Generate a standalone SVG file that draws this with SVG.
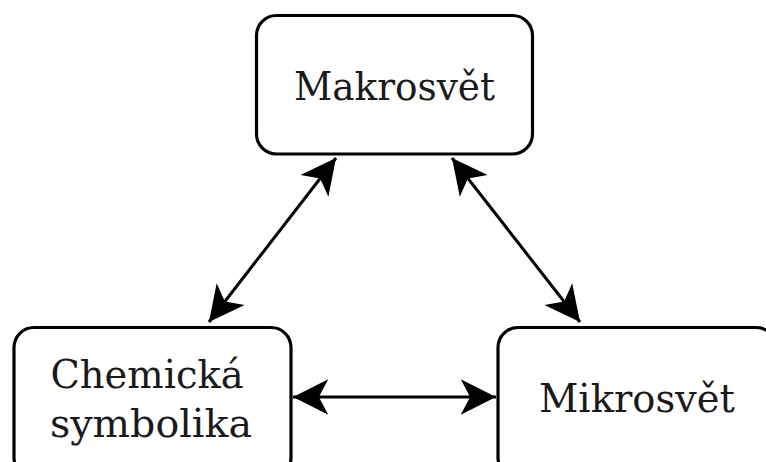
<svg xmlns="http://www.w3.org/2000/svg" width="766" height="462" viewBox="0 0 766 462">
  <style>
    .box { fill: #ffffff; stroke: #000000; stroke-width: 3.2; }
    .label { font-family: "DejaVu Serif", "Liberation Serif", serif; font-size: 40px; fill: #1a1a1a; text-anchor: middle; }
    .link { stroke: #000000; stroke-width: 3; fill: none; marker-start: url(#head); marker-end: url(#head); }
  </style>
  <defs>
    <marker id="head" markerUnits="userSpaceOnUse" markerWidth="40" markerHeight="40" viewBox="-32 -16 34 32" refX="0" refY="0" orient="auto-start-reverse" overflow="visible">
      <path d="M0,0 L-30,-15 L-22,0 L-30,15 Z" fill="#000000"/>
    </marker>
  </defs>
  <rect width="766" height="462" fill="#ffffff"/>

  <g id="connectors">
    <line class="link" x1="336" y1="158" x2="209" y2="322"/>
    <line class="link" x1="452" y1="158" x2="580" y2="322"/>
    <line class="link" x1="293" y1="397" x2="496" y2="397"/>
  </g>

  <g id="makrosvet">
    <rect class="box" x="256.5" y="15.5" width="276" height="138.5" rx="20"/>
    <text class="label" x="394.5" y="100" textLength="201" lengthAdjust="spacingAndGlyphs">Makrosvět</text>
  </g>

  <g id="chemicka-symbolika">
    <rect class="box" x="14" y="327.5" width="277" height="150" rx="20"/>
    <text class="label" x="147" y="388" textLength="193" lengthAdjust="spacingAndGlyphs">Chemická</text>
    <text class="label" x="151" y="437" textLength="202" lengthAdjust="spacingAndGlyphs">symbolika</text>
  </g>

  <g id="mikrosvet">
    <rect class="box" x="498" y="327.5" width="278" height="150" rx="20"/>
    <text class="label" x="637" y="412" textLength="196" lengthAdjust="spacingAndGlyphs">Mikrosvět</text>
  </g>
</svg>
